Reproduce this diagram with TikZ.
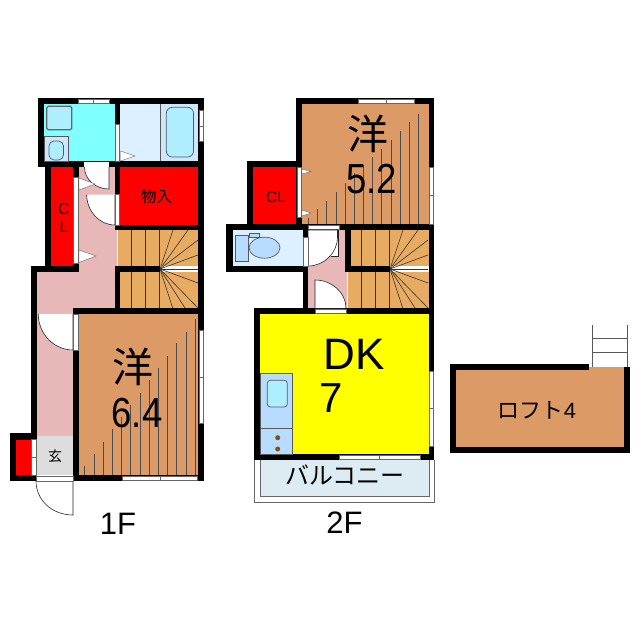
\documentclass[tikz,border=0pt]{standalone}
\usepackage{fontspec}
\setmainfont{Liberation Sans}
\newfontfamily\jpf{Noto Sans CJK JP}
\definecolor{wood}{HTML}{DC9A66}
\definecolor{stair}{HTML}{E8AB62}
\definecolor{hall}{HTML}{E8B8B8}
\definecolor{aquaroom}{HTML}{80FFFF}
\definecolor{paleblue}{HTML}{DDF0FF}
\definecolor{midblue}{HTML}{B8DCFF}
\definecolor{tub}{HTML}{AEEEFF}
\definecolor{balc}{HTML}{DCECF2}
\definecolor{genkan}{HTML}{DDDDDD}
\definecolor{dkyellow}{HTML}{FFFF00}
\definecolor{closet}{HTML}{FF0000}
\definecolor{burner}{HTML}{8A4A10}
\newcommand{\fs}[1]{\fontsize{#1}{#1}\selectfont}
\tikzset{
  wall/.style={fill=black},
  winbox/.style={fill=white,draw=black!60,line width=.4pt},
  doorleaf/.style={fill=white,draw=black!85,line width=.6pt},
  wedge/.style={fill=white,draw=black!60,line width=.4pt},
  tread/.style={draw=black!80,line width=.6pt},
  floorline/.style={draw=black!70,line width=.6pt},
  fixture/.style={draw=black!65,line width=.7pt},
  label/.style={inner sep=0pt,text=black}
}
\begin{document}
\begin{tikzpicture}[x=1pt,y=-1pt]
\useasboundingbox (0,0) rectangle (640,640);
% ---------- room fills, 1F
\fill[aquaroom] (44,104) rectangle (115,161);
\fill[paleblue] (120,104) rectangle (160,161);
\fill[midblue!70!white] (160,104) rectangle (198,161);
\fill[hall] (78,167) rectangle (117,272);
\fill[hall] (37,272) rectangle (117,314);
\fill[hall] (37,314) rectangle (73,436);
\fill[genkan] (37,436) rectangle (73,475);
\fill[closet] (50,167) rectangle (73,266);
\fill[closet] (120,167) rectangle (198,225);
\fill[closet] (16,440) rectangle (31,475);
\fill[wood] (78,314) rectangle (198,475);
% ---------- room fills, 2F
\fill[wood] (302,104) rectangle (429,224);
\fill[closet] (253,167) rectangle (297,224);
\fill[paleblue] (232,230) rectangle (303,266);
\fill[hall] (308,230) rectangle (347,308);
\fill[dkyellow] (260,314) rectangle (429,454);
% ---------- stairs
\foreach \dx in {0,230}{
  \begin{scope}[shift={(\dx,0)}]
    \fill[stair] (117.5,230) rectangle (198.5,266);
    \fill[stair] (118,272) rectangle (198.5,308);
    \foreach \v in {131.7,145.7,159.3}{
      \draw[tread] (\v,230) -- (\v,266);
      \draw[tread] (\v,272) -- (\v,308);
    }
    \coordinate (fan) at (160,269);
    \foreach \ex/\ey in {173/230,188/230,198/240,198/255,198/269,198/283,198/308,185/308,172.7/308}{
      \draw[tread] (fan) -- (\ex,\ey);
    }
  \end{scope}
}
% ---------- walls, 1F
\fill[wall] (37.5,98) rectangle (204,104);
\fill[wall] (37.5,98) rectangle (44,167);
\fill[wall] (37.5,161) rectangle (204,167);
\fill[wall] (198,98) rectangle (204,481);
\fill[wall] (115,104) rectangle (120,161);
\fill[wall] (45,161) rectangle (50.7,272);
\fill[wall] (73,167) rectangle (78.7,272);
\fill[wall] (30.7,266) rectangle (78.7,272);
\fill[wall] (30.7,266) rectangle (37,436);
\fill[wall] (115,161) rectangle (120,230);
\fill[wall] (115,224.5) rectangle (204,230);
\fill[wall] (115,266) rectangle (160,272);
\fill[wall] (115,266) rectangle (120,314);
\fill[wall] (73,308.3) rectangle (204,314);
\fill[wall] (73,308.3) rectangle (78.7,481);
\fill[wall] (73,475) rectangle (204,481);
\fill[wall] (9.5,433) rectangle (37,439.5);
\fill[wall] (9.5,433) rectangle (16,481);
\fill[wall] (9.5,475) rectangle (37,481);
% ---------- walls, 2F
\fill[wall] (296,98) rectangle (434,104);
\fill[wall] (296,98) rectangle (302,224);
\fill[wall] (428.6,98) rectangle (434,460);
\fill[wall] (226,224) rectangle (434,230);
\fill[wall] (247,161) rectangle (302,167);
\fill[wall] (247,161) rectangle (253,230);
\fill[wall] (226,224) rectangle (232.7,272);
\fill[wall] (226,266) rectangle (308,272);
\fill[wall] (303,230) rectangle (308,314);
\fill[wall] (345,230) rectangle (351,272);
\fill[wall] (345,266) rectangle (390,272);
\fill[wall] (254,308.3) rectangle (434,314);
\fill[wall] (254,308.3) rectangle (260,460);
\fill[wall] (254,454) rectangle (434,460);
% ---------- walls, loft
\fill[wood] (456,367) rectangle (624,447);
\fill[wall] (449.5,363.5) rectangle (589,370);
\fill[wall] (449.5,363.5) rectangle (456,453);
\fill[wall] (624,366.5) rectangle (630,453);
\fill[wall] (449.5,447) rectangle (630,453);
% ---------- fixtures, 1F
\draw[draw=black!60,line width=1.2pt,fill=tub,rounded corners=1.5pt] (46.8,106.3) rectangle (71.8,129.7);
\draw[fixture,fill=midblue!70!white] (44,136.5) rectangle (68.7,161);
\draw[fixture,fill=tub,rounded corners=5pt] (49,141) rectangle (63.5,160);
\draw[fixture,fill=tub,rounded corners=6pt] (166.3,107.3) rectangle (193.5,157);
\draw[fixture] (160,104) -- (160,161);
% ---------- windows and door leaves, 1F
\draw[winbox] (78,99.5) rectangle (93.5,103);
\draw[winbox] (93.5,99.5) rectangle (109,103);
\draw[winbox] (199.5,110) rectangle (203,126);
\draw[winbox] (199.5,126) rectangle (203,141);
\draw[winbox] (115.5,124) rectangle (119.5,161);
\draw[wedge] (120.5,151) -- (135,156) -- (120.5,161) -- cycle;
\fill[white] (84,161.5) rectangle (109,167);
\draw[doorleaf] (84.5,167) .. controls (84.5,180) and (96,189) .. (109,189) -- (109,167);
\draw[wedge] (79,178) -- (95,184) -- (79,190) -- cycle;
\draw[winbox] (73.5,177) rectangle (78,263);
\draw[wedge] (79,250) -- (96,256) -- (79,262.5) -- cycle;
\draw[doorleaf] (86.7,194.5) .. controls (86.7,211) and (99,225) .. (115,225) -- (115,194.5);
\draw[winbox] (115.5,194.5) rectangle (119.5,225);
\draw[doorleaf] (38.3,314) .. controls (38.3,334) and (54,350) .. (73,350) -- (73,314);
\draw[winbox] (73.5,314) rectangle (78,350);
\draw[winbox] (199.5,330) rectangle (203,377);
\draw[winbox] (199.5,377) rectangle (203,423);
\draw[winbox] (122,476.5) rectangle (160,480);
\draw[winbox] (160,476.5) rectangle (197,480);
\draw[doorleaf] (36,481) .. controls (36,500) and (52,515) .. (73,515) -- (73,481);
\draw[winbox] (36,476) rectangle (73,481);
\draw[winbox] (31,439.5) rectangle (36,457);
\draw[winbox] (31,457) rectangle (36,475.5);
% floor boards 1F
\foreach \lx/\ly in {84.7/465.7,94/454,103.3/441.7,112.3/429.3,121.7/416.7,130.7/405,140/392.7,149/380,158.3/368.3,167.3/356,176.7/343.3,186/331.7,195/319.3}{
  \draw[floorline] (\lx,\ly) -- (\lx,475);
}
% ---------- fixtures, 2F
\draw[fixture,fill=midblue] (235.7,235) rectangle (248.7,261);
\draw[fixture,fill=midblue] (249,233) rectangle (259,237);
\draw[fixture,fill=midblue] (264.5,247.7) ellipse[x radius=15.5,y radius=10.5];
\draw[fixture,fill=midblue] (260,373.5) rectangle (292,428);
\draw[fixture,fill=midblue] (260,428) rectangle (292,454);
\draw[fixture,fill=tub,rounded corners=3pt] (267.3,380.3) rectangle (287.3,407);
\fill[burner] (277.7,437.7) circle[radius=2.5];
\fill[burner] (277.7,449) circle[radius=2.5];
% ---------- windows and door leaves, 2F
\draw[winbox] (358,99.5) rectangle (386,103);
\draw[winbox] (386,99.5) rectangle (414,103);
\draw[winbox] (429.3,167) rectangle (433,195.5);
\draw[winbox] (429.3,195.5) rectangle (433,224);
\draw[winbox] (297,167) rectangle (301.5,217);
\draw[wedge] (302,169) -- (311,171.5) -- (302,174) -- cycle;
\draw[wedge] (302,210) -- (311,213) -- (302,216) -- cycle;
\draw[winbox] (308,225) rectangle (339,229.5);
\fill[white] (308,230) rectangle (337.5,256);
\draw[doorleaf] (337.5,237) .. controls (337.5,253) and (324,266) .. (308,266) -- (308,230) -- (337.5,230) -- cycle;
\draw[draw=black!85,line width=.6pt] (338.5,230) -- (338.5,256) -- (331,256);
\draw[winbox] (303.3,237) rectangle (308,266);
\draw[doorleaf] (346,308) .. controls (346,293) and (332,280) .. (315,280) -- (315,308);
\draw[winbox] (315,308.7) rectangle (346,313);
\draw[winbox] (429.3,371) rectangle (433,408);
\draw[winbox] (429.3,408) rectangle (433,446);
\draw[winbox] (339,455) rectangle (379,459);
\draw[winbox] (379,455) rectangle (420,459);
% floor boards 2F
\foreach \lx/\ly in {308/218.3,317.3/209.3,326.7/200.7,336/191.7,345/183.3,354/173.3,363.3/165,372.7/157.3,381.7/149.3,391/140,400.3/131.3,409.3/122.3,418.7/114}{
  \draw[floorline] (\lx,\ly) -- (\lx,224);
}
% ---------- balcony
\draw[draw=black!60,line width=.8pt] (254,460) -- (254,502) -- (434.5,502) -- (434.5,460);
\draw[draw=black!60,line width=.8pt,fill=balc] (260,460) -- (260,496) -- (429,496) -- (429,460);
% ---------- loft ladder
\draw[draw=black!65,line width=.8pt] (592,325) -- (592,367);
\draw[draw=black!65,line width=.8pt] (627,325) -- (627,367);
\draw[draw=black!65,line width=.8pt] (592,338.5) -- (627,338.5);
\draw[draw=black!65,line width=.8pt] (592,352.5) -- (627,352.5);
% ---------- labels
\node[label] (clA) at (64,209) {\fs{16}C};
\node[label] (clB) at (64,227) {\fs{16}L};
\node[label] (mono) at (156.5,197) {\jpf\fs{15.5}物入};
\node[label] (gen) at (55,456) {\jpf\fs{14}玄};
\node[label] (yoA) at (132.5,367) {\jpf\fs{41}洋};
\node[label] (szA) at (137,413) {\fs{42}\scalebox{.87}[1]{6.4}};
\node[label] (oneF) at (118,524) {\fs{31}1F};
\node[label] (yoB) at (367.5,134) {\jpf\fs{41}洋};
\node[label] (szB) at (371.5,179) {\fs{42}\scalebox{.87}[1]{5.2}};
\node[label] (clC) at (276,197) {\fs{15.5}CL};
\node[label] (dk) at (354,354) {\fs{44}DK};
\node[label] (seven) at (331,398) {\fs{42}7};
\node[label] (balk) at (345,475) {\jpf\fs{24}バルコニー};
\node[label] (twoF) at (344.5,523) {\fs{31}2F};
\node[label] (loft) at (537,410) {\jpf\fs{22}ロフト\fontspec{Liberation Sans}4};
\end{tikzpicture}
\end{document}
